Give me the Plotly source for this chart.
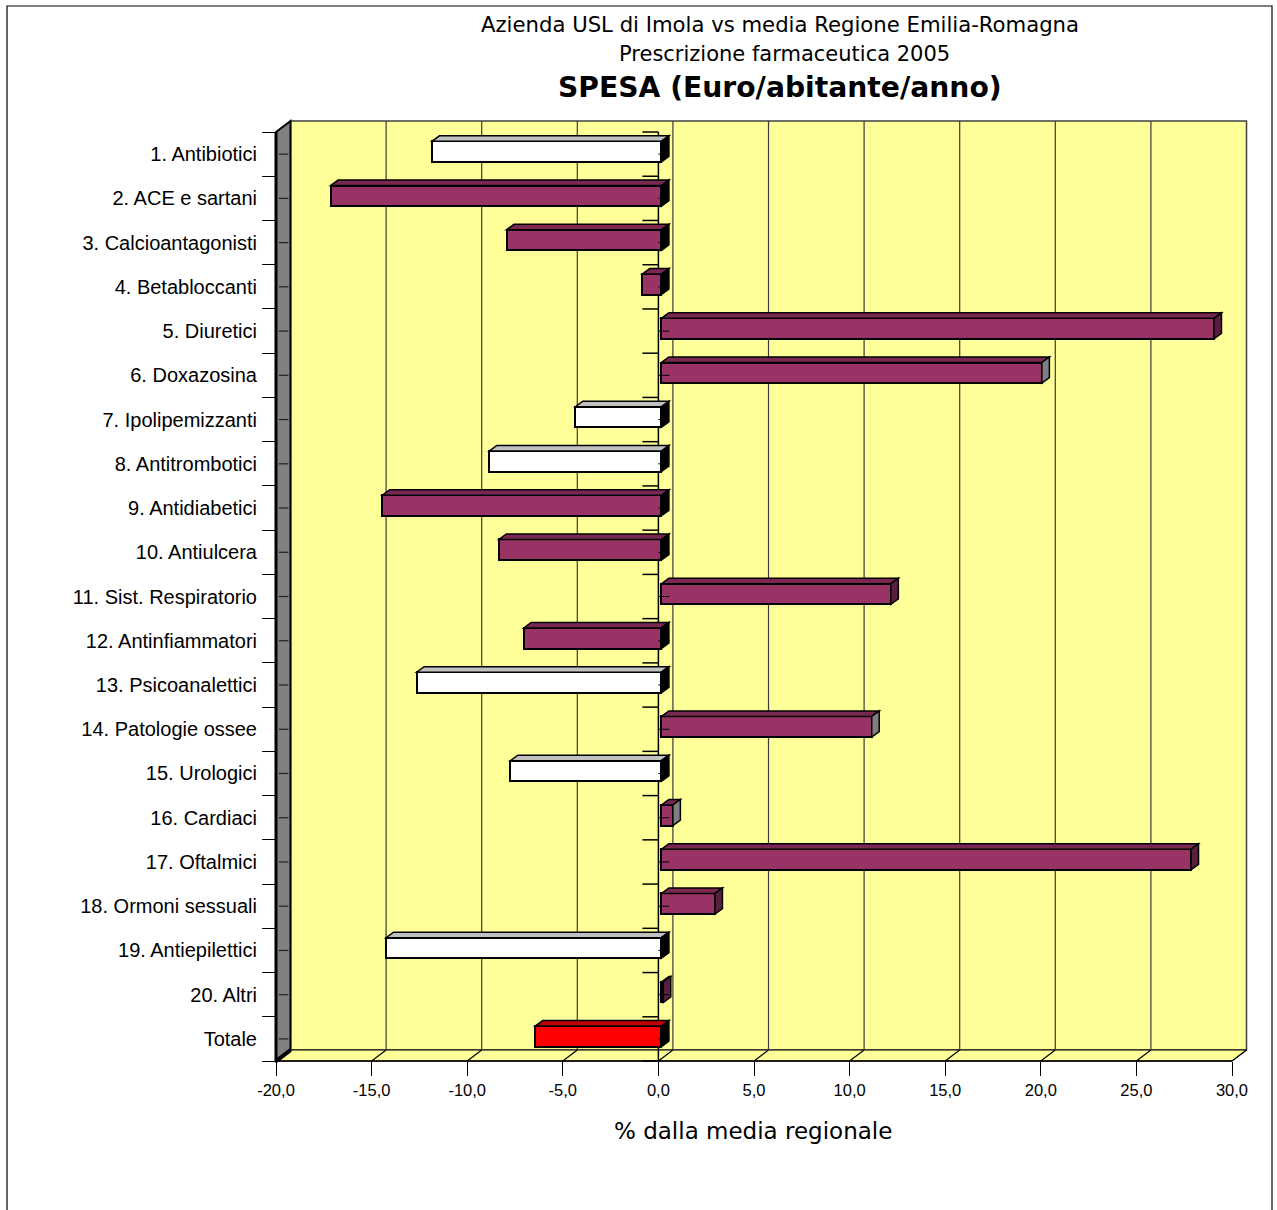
import plotly.graph_objects as go

# ---- data -------------------------------------------------------------
categorie = [
    "1. Antibiotici", "2. ACE e sartani", "3. Calcioantagonisti",
    "4. Betabloccanti", "5. Diuretici", "6. Doxazosina",
    "7. Ipolipemizzanti", "8. Antitrombotici", "9. Antidiabetici",
    "10. Antiulcera", "11. Sist. Respiratorio", "12. Antinfiammatori",
    "13. Psicoanalettici", "14. Patologie ossee", "15. Urologici",
    "16. Cardiaci", "17. Oftalmici", "18. Ormoni sessuali",
    "19. Antiepilettici", "20. Altri", "Totale",
]
scostamento = [
    -12.0, -17.3, -8.1, -1.0, 28.9, 19.9, -4.5, -9.0, -14.6, -8.5,
    12.0, -7.2, -12.8, 11.0, -7.9, 0.6, 27.7, 2.8, -14.4, 0.1, -6.6,
]
classe = [
    "bianco", "viola", "viola", "viola", "viola", "viola", "bianco",
    "bianco", "viola", "viola", "viola", "viola", "bianco", "viola",
    "bianco", "viola", "viola", "viola", "bianco", "viola", "totale",
]
x_ticks = [-20, -15, -10, -5, 0, 5, 10, 15, 20, 25, 30]

# ---- styling ----------------------------------------------------------
FRONT = {"viola": "#993366", "bianco": "#FFFFFF", "totale": "#FF0000"}
TOP = {"viola": "#7A2852", "bianco": "#C0C0C0", "totale": "#C00000"}
END_POS = {"viola": "#5A1E3F", "bianco": "#000000", "totale": "#000000"}
GREY_END = {"6. Doxazosina", "14. Patologie ossee", "16. Cardiaci"}
WALL = "#FFFF99"
SIDE = "#808080"

W_FIG, H_FIG = 1277, 1210
ML, MR, MT, MB = 262, 19, 110, 140
PW, PH = W_FIG - ML - MR, H_FIG - MT - MB
PX_X = 19.12          # pixels per x unit
PX_Y = 44.24          # pixels per category
XMIN = -20 - 14 / PX_X
XMAX = XMIN + PW / PX_X
YTOP = -0.5 - 22 / PX_Y
YBOT = YTOP + PH / PX_Y

DX, DY = 14.5 / PX_X, 11 / PX_Y          # depth of the chart box
BDX, BDY = 7.5 / PX_X, 5.5 / PX_Y        # depth of each bar
OX, OY = 3 / PX_X, 2.5 / PX_Y            # bar front inset
HALF = 10.3 / PX_Y                       # half bar thickness

n = len(categorie)
pos = list(range(n))
Y0, Y1 = -0.5, n - 0.5
X0, X1 = x_ticks[0], x_ticks[-1]


def px2paper_x(px):
    return (px - ML) / PW


def px2paper_y(py):
    return (MT + PH - py) / PH


def poly(pts):
    return "M " + " L ".join(f"{x},{y}" for x, y in pts) + " Z"


shapes = []

# back wall
shapes.append(dict(type="rect", xref="x", yref="y", layer="below",
                   x0=X0 + DX, x1=X1 + DX, y0=Y0 - DY, y1=Y1 - DY,
                   fillcolor=WALL, line=dict(color="#404040", width=1.5)))
# floor
shapes.append(dict(type="path", xref="x", yref="y", layer="below",
                   path=poly([(X0, Y1), (X1, Y1), (X1 + DX, Y1 - DY), (X0 + DX, Y1 - DY)]),
                   fillcolor=WALL, line=dict(color="#000000", width=1)))
# gridlines on the back wall and their floor diagonals
for v in x_ticks:
    if X0 < v < X1:
        shapes.append(dict(type="line", xref="x", yref="y", layer="below",
                           x0=v + DX, x1=v + DX, y0=Y0 - DY, y1=Y1 - DY,
                           line=dict(color="#3a3a3a", width=1.2)))
    shapes.append(dict(type="line", xref="x", yref="y", layer="below",
                       x0=v, x1=v + DX, y0=Y1, y1=Y1 - DY,
                       line=dict(color="#000000", width=1.2)))
# left side wall
shapes.append(dict(type="path", xref="x", yref="y", layer="below",
                   path=poly([(X0, Y0), (X0 + DX, Y0 - DY), (X0 + DX, Y1 - DY), (X0, Y1)]),
                   fillcolor=SIDE, line=dict(color="#000000", width=2)))
shapes.append(dict(type="line", xref="x", yref="y", layer="below",
                   x0=X0, x1=X0 + DX, y0=Y1, y1=Y1 - DY,
                   line=dict(color="#000000", width=4)))
shapes.append(dict(type="line", xref="x", yref="y", layer="below",
                   x0=X0, x1=X0, y0=Y0, y1=Y1,
                   line=dict(color="#000000", width=3)))
for p in pos:
    shapes.append(dict(type="line", xref="x", yref="y", layer="below",
                       x0=X0 + 0.15, x1=X0 + 0.65, y0=p, y1=p,
                       line=dict(color="#202020", width=1.2)))
# front floor edge
shapes.append(dict(type="line", xref="x", yref="y", layer="below",
                   x0=X0, x1=X1, y0=Y1, y1=Y1,
                   line=dict(color="#000000", width=1.5)))
# category axis crossing at zero
shapes.append(dict(type="line", xref="x", yref="y", layer="below",
                   x0=0, x1=0, y0=Y0, y1=Y1,
                   line=dict(color="#000000", width=1.5)))
for b in range(n + 1):
    yb = b - 0.5
    shapes.append(dict(type="line", xref="x", yref="y", layer="below",
                       x0=-16 / PX_X, x1=0, y0=yb, y1=yb,
                       line=dict(color="#000000", width=1.5)))

# 3D faces of the bars
for cat, v, c, p in zip(categorie, scostamento, classe, pos):
    xa, xb = min(0, v) + OX, max(0, v) + OX
    yt, yb = p - HALF - OY, p + HALF - OY
    shapes.append(dict(type="path", xref="x", yref="y", layer="above",
                       path=poly([(xa, yt), (xb, yt), (xb + BDX, yt - BDY), (xa + BDX, yt - BDY)]),
                       fillcolor=TOP[c], line=dict(color="#000000", width=1.5)))
    if v > 0:
        end_col = SIDE if cat in GREY_END else END_POS[c]
    else:
        end_col = "#000000"
    shapes.append(dict(type="path", xref="x", yref="y", layer="above",
                       path=poly([(xb, yt), (xb + BDX, yt - BDY), (xb + BDX, yb - BDY), (xb, yb)]),
                       fillcolor=end_col, line=dict(color="#000000", width=1.5)))
    shapes.append(dict(type="line", xref="x", yref="y", layer="above",
                       x0=0, x1=11 / PX_X, y0=p, y1=p,
                       line=dict(color="#000000", width=1)))

# outer frame of the chart
shapes.append(dict(type="rect", xref="paper", yref="paper", layer="above",
                   x0=px2paper_x(7), x1=px2paper_x(1272),
                   y0=px2paper_y(1230), y1=px2paper_y(6),
                   fillcolor="rgba(0,0,0,0)", line=dict(color="#000000", width=1.2)))

fig = go.Figure()
fig.add_trace(go.Bar(
    orientation="h",
    y=[p - OY for p in pos],
    x=scostamento,
    base=OX,
    width=2 * HALF,
    marker=dict(color=[FRONT[c] for c in classe],
                line=dict(color="#000000", width=2)),
    hoverinfo="skip",
    showlegend=False,
))

annotations = [
    dict(text="Azienda USL di Imola vs media Regione Emilia-Romagna",
         x=px2paper_x(780), y=px2paper_y(25), font=dict(size=21.2)),
    dict(text="Prescrizione farmaceutica 2005",
         x=px2paper_x(784), y=px2paper_y(54), font=dict(size=21)),
    dict(text="<b>SPESA (Euro/abitante/anno)</b>",
         x=px2paper_x(780), y=px2paper_y(87), font=dict(size=28.2)),
    dict(text="% dalla media regionale",
         x=px2paper_x(753), y=px2paper_y(1131), font=dict(size=23)),
]
for a in annotations:
    a.update(xref="paper", yref="paper", showarrow=False,
             xanchor="center", yanchor="middle")
    a["font"].update(family="DejaVu Sans", color="#000000")

fig.update_layout(
    width=W_FIG, height=H_FIG,
    margin=dict(l=ML, r=MR, t=MT, b=MB),
    paper_bgcolor="#FFFFFF",
    plot_bgcolor="rgba(0,0,0,0)",
    shapes=shapes,
    annotations=annotations,
    bargap=0,
    xaxis=dict(
        range=[XMIN, XMAX], showgrid=False, zeroline=False, showline=False,
        anchor="free", position=(YBOT - Y1) / (YBOT - YTOP),
        tickvals=x_ticks,
        ticktext=[f"{v:.1f}".replace(".", ",") for v in x_ticks],
        ticks="outside", ticklen=14, tickwidth=1, tickcolor="#000000",
        tickfont=dict(family="Liberation Sans", size=16.5, color="#000000"),
    ),
    yaxis=dict(
        range=[YBOT, YTOP], showgrid=False, zeroline=False, showline=False,
        anchor="free", position=(X0 - XMIN) / (XMAX - XMIN),
        tickvals=pos, ticktext=categorie, ticks="",
        ticklabelstandoff=19,
        tickfont=dict(family="Liberation Sans", size=20, color="#000000"),
        minor=dict(tickvals=[b - 0.5 for b in range(n + 1)], ticks="outside",
                   ticklen=14, tickwidth=1, tickcolor="#000000"),
    ),
)

fig.write_html("out.html")
